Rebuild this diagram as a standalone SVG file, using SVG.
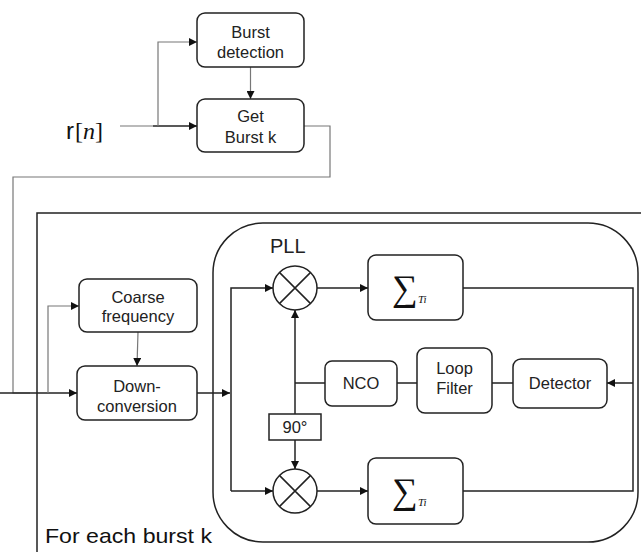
<svg xmlns="http://www.w3.org/2000/svg" width="641" height="552" viewBox="0 0 641 552">
<style>
.box{fill:#fff;stroke:#222;stroke-width:1.5}
.t{font-family:"Liberation Sans",Arial,sans-serif;font-size:16.5px;fill:#222;text-anchor:middle}
.ln{fill:none;stroke:#222;stroke-width:1.5}
.lg{fill:none;stroke:#777;stroke-width:1.2}
.m{font-family:"Liberation Serif","DejaVu Serif",serif;fill:#111}
</style>
<defs>
<marker id="ah" viewBox="0 0 10 10" refX="10" refY="5" markerWidth="8" markerHeight="8" markerUnits="userSpaceOnUse" orient="auto">
<path d="M0,0 L10,5 L0,10 Z" fill="#111"/>
</marker>
</defs>
<g id="frame">
<path d="M641,213 L37,213 L37,552" fill="none" stroke="#222" stroke-width="1.5"/>
</g>
<g id="pll">
<rect x="213" y="223" width="425" height="319" rx="50" fill="none" stroke="#222" stroke-width="1.5"/>
<text x="270" y="253" style="font-family:'Liberation Sans',Arial,sans-serif;font-size:20px;fill:#222">PLL</text>
</g>
<g id="connectors">
<path class="lg" d="M120,126 L153,126"/>
<path class="ln" d="M153,126 L197,126" marker-end="url(#ah)"/>
<path class="lg" d="M158,126 L158,42 L197,42" marker-end="url(#ah)"/>
<path class="lg" d="M250.5,67 L250.5,99" marker-end="url(#ah)"/>
<path class="lg" d="M304,126 L330,126 L330,177 L13,177 L13,393 L30,393"/>
<path class="ln" d="M0,393 L77,393" marker-end="url(#ah)"/>
<path class="lg" d="M48,393 L48,306 L79,306" marker-end="url(#ah)"/>
<path class="lg" d="M138,332 L137,366" marker-end="url(#ah)"/>
<path class="ln" d="M197,393 L230,393" marker-end="url(#ah)"/>
<path class="ln" d="M231,491 L231,288 L273,288" marker-end="url(#ah)"/>
<path class="ln" d="M231,491 L273,491" marker-end="url(#ah)"/>
<path class="ln" d="M317,288 L368,288" marker-end="url(#ah)"/>
<path class="ln" d="M317,491 L368,491" marker-end="url(#ah)"/>
<path class="ln" d="M463,288 L633,288 L633,491 L463,491"/>
<path class="ln" d="M633,383 L607,383" marker-end="url(#ah)"/>
<path class="ln" d="M513,383 L492,383 M417,383 L397,383 M325,383 L295,383"/>
<path class="ln" d="M295,383 L295,310" marker-end="url(#ah)"/>
<path class="ln" d="M295,383 L295,414"/>
<path class="ln" d="M295,440 L295,469" marker-end="url(#ah)"/>
</g>
<g id="input">
<text x="66" y="139" style="font-family:'Liberation Sans',Arial,sans-serif;font-size:24px;fill:#111">r<tspan class="m" dx="1">[</tspan><tspan class="m" font-style="italic">n</tspan><tspan class="m">]</tspan></text>
</g>
<g id="burst-detection">
<rect class="box" x="197" y="13" width="107" height="54" rx="8"/>
<text class="t" x="250.5" y="38">Burst</text>
<text class="t" x="250.5" y="58">detection</text>
</g>
<g id="get-burst">
<rect class="box" x="197" y="99" width="107" height="53" rx="8"/>
<text class="t" x="250.5" y="122">Get</text>
<text class="t" x="250.5" y="143">Burst k</text>
</g>
<g id="coarse">
<rect class="box" x="79" y="279" width="118" height="53" rx="8"/>
<text class="t" x="138" y="303">Coarse</text>
<text class="t" x="138" y="322">frequency</text>
</g>
<g id="downconv">
<rect class="box" x="77" y="366" width="120" height="54" rx="8"/>
<text class="t" x="137" y="392">Down-</text>
<text class="t" x="137" y="412">conversion</text>
</g>
<g id="mixer1">
<circle cx="295" cy="288" r="22" class="box"/>
<path class="ln" d="M279.4,272.4 L310.6,303.6 M310.6,272.4 L279.4,303.6"/>
</g>
<g id="mixer2">
<circle cx="295" cy="491" r="22" class="box"/>
<path class="ln" d="M279.4,475.4 L310.6,506.6 M310.6,475.4 L279.4,506.6"/>
</g>
<g id="sum1">
<rect class="box" x="368" y="255" width="95" height="65" rx="8"/>
<text class="m" x="392" y="300" font-size="36">∑</text>
<text class="m" x="418" y="303" font-size="11" font-style="italic">Ti</text>
</g>
<g id="sum2">
<rect class="box" x="368" y="458" width="95" height="66" rx="8"/>
<text class="m" x="392" y="503" font-size="36">∑</text>
<text class="m" x="418" y="506" font-size="11" font-style="italic">Ti</text>
</g>
<g id="nco">
<rect class="box" x="325" y="361" width="72" height="45" rx="7"/>
<text class="t" x="361" y="389">NCO</text>
</g>
<g id="loop-filter">
<rect class="box" x="417" y="348" width="75" height="65" rx="8"/>
<text class="t" x="454.5" y="374">Loop</text>
<text class="t" x="454.5" y="394">Filter</text>
</g>
<g id="detector">
<rect class="box" x="513" y="359" width="94" height="49" rx="8"/>
<text class="t" x="560" y="389">Detector</text>
</g>
<g id="phase90">
<rect x="269" y="414" width="52" height="26" fill="#fff" stroke="#222" stroke-width="1.5"/>
<text class="t" x="295" y="433">90°</text>
</g>
<g id="label">
<text x="45" y="543" style="font-family:'Liberation Sans',sans-serif;font-size:21px;fill:#111" textLength="167" lengthAdjust="spacingAndGlyphs">For each burst k</text>
</g>
</svg>
